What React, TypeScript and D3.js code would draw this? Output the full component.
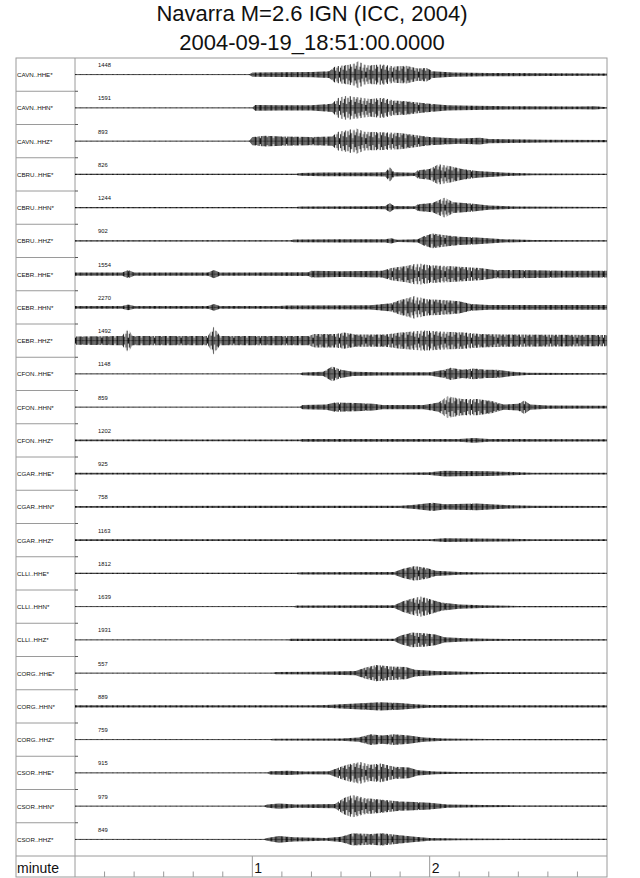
import { useEffect, useRef } from 'react';
import * as d3 from 'd3';

const channels = [
  'CAVN..HHE*', 'CAVN..HHN*', 'CAVN..HHZ*',
  'CBRU..HHE*', 'CBRU..HHN*', 'CBRU..HHZ*',
  'CEBR..HHE*', 'CEBR..HHN*', 'CEBR..HHZ*',
  'CFON..HHE*', 'CFON..HHN*', 'CFON..HHZ*',
  'CGAR..HHE*', 'CGAR..HHN*', 'CGAR..HHZ*',
  'CLLI..HHE*', 'CLLI..HHN*', 'CLLI..HHZ*',
  'CORG..HHE*', 'CORG..HHN*', 'CORG..HHZ*',
  'CSOR..HHE*', 'CSOR..HHN*', 'CSOR..HHZ*'
];

const maxCounts = [1448, 1591, 893, 826, 1244, 902, 1554, 2270, 1492, 1148, 859, 1202,
  925, 758, 1163, 1812, 1639, 1931, 557, 889, 759, 915, 979, 849];

// envelope of each trace: [seconds after 18:51:00, relative amplitude]
const envelopes: [number, number][][] = [
  [[0, .03], [59, .03], [60, .15], [70, .18], [80, .2], [86, .25], [88, .6], [93, .75], [96, 1.0], [99, .7], [104, .75], [108, .6], [112, .65], [116, .45], [119, .5], [121, .25], [128, .15], [140, .12], [160, .1], [180, .08]],
  [[0, .03], [60, .03], [61, .22], [70, .2], [80, .2], [87, .3], [89, .75], [92, .9], [95, .8], [100, .65], [104, .75], [108, .55], [112, .5], [116, .4], [120, .3], [126, .2], [135, .15], [150, .12], [170, .1], [176, .12], [180, .05]],
  [[0, .03], [59, .03], [60, .3], [64, .4], [70, .35], [80, .3], [87, .35], [89, .7], [92, .8], [95, .95], [98, .7], [104, .65], [110, .6], [115, .45], [120, .3], [130, .2], [137, .25], [140, .15], [160, .1], [180, .08]],
  [[0, .04], [75, .04], [76, .1], [84, .13], [100, .13], [105, .15], [106.5, .55], [108, .15], [115, .12], [116, .3], [120, .4], [123, .75], [127, .6], [131, .4], [136, .25], [146, .12], [155, .06], [180, .05]],
  [[0, .04], [75, .04], [76, .08], [100, .1], [105, .12], [106.5, .35], [108, .12], [115, .1], [116, .25], [121, .35], [125, .75], [128, .4], [134, .3], [140, .15], [150, .08], [180, .05]],
  [[0, .04], [73, .04], [74, .1], [90, .12], [105, .12], [107, .2], [109, .08], [116, .12], [118, .35], [121, .55], [124, .45], [130, .3], [136, .25], [145, .12], [155, .07], [180, .05]],
  [[0, .12], [16, .12], [18, .3], [20, .12], [45, .12], [47, .3], [49, .12], [79, .13], [80, .25], [90, .22], [104, .25], [107, .45], [112, .6], [116, .8], [120, .65], [126, .6], [130, .55], [137, .45], [142, .3], [150, .3], [165, .25], [180, .25]],
  [[0, .1], [16, .1], [18, .22], [20, .1], [45, .1], [47, .25], [49, .1], [69, .1], [72, .14], [100, .15], [107, .3], [110, .55], [115, .85], [119, .6], [125, .55], [130, .45], [134, .25], [140, .18], [180, .18]],
  [[0, .3], [16, .35], [17.8, .95], [19.5, .35], [45, .35], [47, 1.05], [49, .35], [79, .35], [81, .5], [88, .5], [91, .6], [95, .45], [105, .45], [110, .6], [118, .75], [125, .65], [132, .6], [137, .5], [145, .45], [180, .42]],
  [[0, .03], [76, .03], [77, .1], [84, .15], [87, .55], [90, .3], [94, .15], [103, .12], [120, .12], [125, .3], [127, .45], [131, .3], [135, .4], [139, .3], [143, .3], [148, .15], [153, .08], [180, .04]],
  [[0, .03], [76, .03], [77, .15], [85, .2], [88, .35], [95, .3], [101, .25], [104, .15], [118, .15], [123, .35], [126, .8], [131, .6], [136, .6], [141, .45], [145, .2], [150, .25], [152, .5], [154, .2], [160, .12], [180, .1]],
  [[0, .06], [76, .06], [77, .1], [130, .1], [135, .17], [140, .1], [180, .08]],
  [[0, .06], [110, .07], [120, .1], [125, .22], [130, .2], [140, .18], [148, .12], [155, .07], [180, .06]],
  [[0, .07], [110, .08], [115, .15], [121, .3], [125, .2], [136, .25], [142, .18], [148, .12], [155, .08], [180, .07]],
  [[0, .06], [120, .07], [125, .14], [135, .12], [145, .1], [155, .07], [180, .06]],
  [[0, .04], [75, .04], [76, .08], [108, .1], [111, .35], [115, .55], [119, .4], [122, .2], [130, .1], [140, .06], [180, .05]],
  [[0, .03], [74, .03], [75, .08], [108, .1], [111, .4], [114, .6], [117, .75], [121, .5], [124, .3], [130, .15], [138, .1], [150, .05], [180, .04]],
  [[0, .03], [72, .03], [73, .08], [108, .08], [110, .3], [114, .55], [118, .5], [122, .4], [125, .2], [132, .12], [140, .08], [180, .04]],
  [[0, .03], [67, .03], [68, .08], [82, .1], [95, .15], [98, .4], [102, .6], [107, .5], [112, .45], [115, .25], [122, .15], [132, .1], [140, .06], [180, .04]],
  [[0, .08], [80, .08], [85, .1], [95, .22], [103, .3], [110, .25], [115, .15], [120, .1], [180, .08]],
  [[0, .03], [66, .03], [67, .07], [90, .08], [96, .15], [100, .4], [104, .3], [108, .4], [113, .3], [118, .15], [125, .08], [140, .05], [180, .04]],
  [[0, .03], [65, .03], [66, .12], [72, .15], [78, .1], [86, .12], [90, .45], [93, .65], [96.5, .8], [100, .6], [103.5, .7], [108, .45], [113, .4], [116, .2], [122, .1], [130, .06], [180, .04]],
  [[0, .03], [64, .03], [65, .12], [69, .2], [75, .12], [88, .15], [91, .6], [94, .85], [98, .6], [103, .5], [110, .35], [115, .3], [120, .25], [126, .12], [138, .08], [150, .05], [180, .04]],
  [[0, .03], [64, .03], [65, .1], [69, .25], [74, .15], [85, .1], [90, .2], [94, .45], [100, .4], [104, .45], [110, .3], [115, .2], [120, .1], [130, .06], [180, .04]]
];

const minuteTicks = [1, 2];
const titleLines = ['Navarra M=2.6 IGN (ICC, 2004)', '2004-09-19_18:51:00.0000'];

// hatch used to texture the trace envelopes (half-lengths of the strokes, px)
const hatch = [3, 7, 12, 5, 9, 14, 4, 10, 6, 13, 8, 3, 11, 6, 9, 15, 5, 8, 12, 4, 7, 10];

export default function App() {
  const svgRef = useRef<SVGSVGElement>(null);

  useEffect(() => {
    if (!svgRef.current) return;
    const svg = d3.select(svgRef.current);
    svg.selectAll('*').remove();

    const left = 16, labelW = 59, right = 607, top = 58, axisTop = 856, bottom = 877;
    const font = 'Liberation Sans, Arial, Helvetica, sans-serif';
    const grid = '#9a9a9a';

    const x = d3.scaleLinear().domain([0, 180]).range([left + labelW, right]);
    const row = d3.scaleBand().domain(channels).range([top, axisTop]);
    const amp = d3.scaleLinear().domain([0, 1]).range([0, 13.5]);
    const bw = row.bandwidth();
    const step = 1.2;

    svg.append('rect').attr('width', 640).attr('height', 878).attr('fill', '#fff');

    const pat = svg.append('defs').append('pattern').attr('id', 'wig')
      .attr('patternUnits', 'userSpaceOnUse')
      .attr('x', x(0)).attr('y', top)
      .attr('width', hatch.length * step).attr('height', bw);
    pat.selectAll('rect').data(hatch).enter().append('rect')
      .attr('x', (d, i) => i * step).attr('y', d => bw / 2 - d)
      .attr('width', 0.9).attr('height', d => d * 2)
      .attr('fill', (d, i) => (i % 3 === 2 ? '#333' : '#000'));

    svg.selectAll('text.title').data(titleLines).enter().append('text')
      .attr('x', 312).attr('y', (d, i) => 21 + i * 29).attr('text-anchor', 'middle')
      .attr('font-family', font).attr('font-size', 22).attr('fill', '#111').text(d => d);

    // frame
    svg.append('rect').attr('x', left).attr('y', top).attr('width', right - left).attr('height', bottom - top)
      .attr('fill', 'none').attr('stroke', grid).attr('stroke-width', 1);
    svg.append('line').attr('x1', x(0)).attr('x2', x(0)).attr('y1', top).attr('y2', bottom)
      .attr('stroke', grid);
    svg.append('line').attr('x1', left).attr('x2', right).attr('y1', axisTop).attr('y2', axisTop)
      .attr('stroke', grid);

    const area = d3.area<[number, number]>().x(d => x(d[0]));

    channels.forEach((name, i) => {
      const y0 = row(name)!;
      const yc = y0 + bw / 2;
      if (i > 0) {
        svg.append('line').attr('x1', left).attr('x2', x(0)).attr('y1', y0).attr('y2', y0).attr('stroke', grid);
        svg.append('line').attr('x1', x(0)).attr('x2', x(0) + 3).attr('y1', y0).attr('y2', y0).attr('stroke', '#555');
      }
      svg.append('text').attr('x', left + 1).attr('y', yc + 2.5)
        .attr('font-family', font).attr('font-size', 6.2).attr('fill', '#111').text(name);
      svg.append('text').attr('x', 98).attr('y', y0 + 9)
        .attr('font-family', font).attr('font-size', 5.8).attr('fill', '#111').text(String(maxCounts[i]));

      const env = envelopes[i];
      svg.append('line').attr('x1', x(0)).attr('x2', x(180)).attr('y1', yc).attr('y2', yc)
        .attr('stroke', '#333').attr('stroke-width', 0.6);
      svg.append('path')
        .attr('d', area.y0(d => yc - amp(d[1])).y1(d => yc + amp(d[1]))(env)!)
        .attr('fill', 'url(#wig)');
    });

    // time axis
    svg.selectAll('line.minor').data(d3.range(10, 180, 10).filter(s => s % 60 !== 0)).enter().append('line')
      .attr('x1', d => x(d)).attr('x2', d => x(d)).attr('y1', bottom - 5.5).attr('y2', bottom)
      .attr('stroke', grid);
    svg.selectAll('line.major').data(minuteTicks).enter().append('line')
      .attr('x1', d => x(d * 60)).attr('x2', d => x(d * 60)).attr('y1', axisTop).attr('y2', bottom)
      .attr('stroke', grid);
    svg.selectAll('text.tick').data(minuteTicks).enter().append('text')
      .attr('x', d => x(d * 60) + 2).attr('y', 873)
      .attr('font-family', font).attr('font-size', 14).attr('fill', '#111').text(d => String(d));
    svg.append('text').attr('x', left + 1).attr('y', 873)
      .attr('font-family', font).attr('font-size', 14).attr('fill', '#111').text('minute');
  }, []);

  return (
    <svg ref={svgRef} width={640} height={878}
      style={{ position: 'absolute', left: 0, top: 0, display: 'block' }} />
  );
}
